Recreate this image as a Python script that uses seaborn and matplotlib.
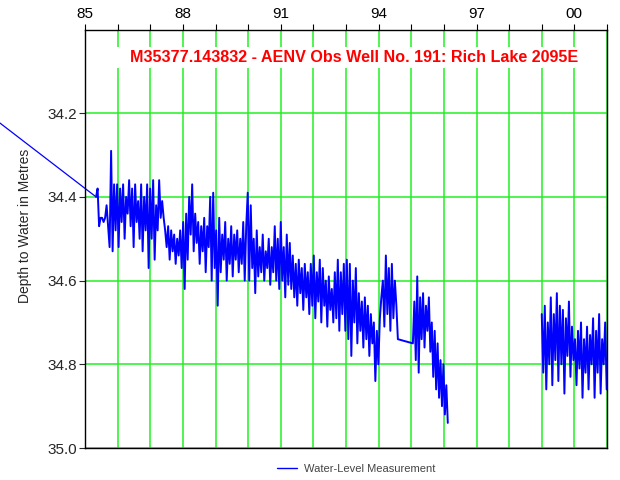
import numpy as np
import pandas as pd
import matplotlib
matplotlib.use("Agg")
import matplotlib.pyplot as plt
from matplotlib.lines import Line2D
from matplotlib.patches import Rectangle
import seaborn as sns

# Earlier reading that leads into the record (before the plotted window)
early_years = [1982.0]
early_depth = [34.20]

# Main record, Apr 1985 - Jul 1994 (regular readings)
main_start, main_end = 1985.34, 1994.59
main_depth = [
    34.40, 34.38, 34.47, 34.45, 34.45, 34.46, 34.45, 34.42, 34.47, 34.52,
    34.29, 34.53, 34.37, 34.48, 34.37, 34.52, 34.38, 34.46, 34.37, 34.50,
    34.40, 34.44, 34.36, 34.47, 34.38, 34.52, 34.37, 34.46, 34.41, 34.50,
    34.37, 34.53, 34.40, 34.48, 34.37, 34.57, 34.38, 34.50, 34.36, 34.55,
    34.42, 34.48, 34.36, 34.45, 34.41, 34.45, 34.48, 34.52, 34.47, 34.55,
    34.48, 34.53, 34.49, 34.56, 34.50, 34.54, 34.48, 34.57, 34.46, 34.62,
    34.44, 34.55, 34.40, 34.49, 34.37, 34.53, 34.44, 34.51, 34.46, 34.56,
    34.47, 34.53, 34.45, 34.58, 34.47, 34.52, 34.40, 34.60, 34.39, 34.57,
    34.48, 34.66, 34.45, 34.58, 34.49, 34.55, 34.46, 34.60, 34.50, 34.56,
    34.47, 34.59, 34.49, 34.55, 34.48, 34.58, 34.50, 34.56, 34.46, 34.60,
    34.47, 34.39, 34.60, 34.42, 34.57, 34.50, 34.63, 34.48, 34.59, 34.52,
    34.58, 34.49, 34.60, 34.53, 34.57, 34.50, 34.61, 34.52, 34.58, 34.47,
    34.60, 34.50, 34.62, 34.46, 34.60, 34.52, 34.64, 34.49, 34.61, 34.51,
    34.62, 34.54, 34.64, 34.56, 34.66, 34.55, 34.63, 34.57, 34.67, 34.56,
    34.64, 34.58, 34.68, 34.56, 34.66, 34.54, 34.69, 34.58, 34.65, 34.55,
    34.70, 34.57, 34.66, 34.60, 34.71, 34.59, 34.67, 34.62, 34.70, 34.58,
    34.69, 34.55, 34.72, 34.58, 34.68, 34.56, 34.72, 34.55, 34.74, 34.56,
    34.78, 34.60, 34.70, 34.57, 34.75, 34.63, 34.72, 34.65, 34.76, 34.64,
    34.74, 34.66, 34.78, 34.68, 34.75, 34.70, 34.84, 34.72, 34.80, 34.69,
    34.64, 34.60, 34.71, 34.54, 34.68, 34.57, 34.72, 34.56, 34.69, 34.60,
    34.66, 34.74,
]

# Resumed readings, early 1995 - early 1996
mid_start, mid_end = 1995.05, 1996.12
mid_depth = [
    34.75, 34.65, 34.79, 34.59, 34.82, 34.64, 34.74, 34.63, 34.76, 34.66,
    34.72, 34.64, 34.77, 34.70, 34.83, 34.72, 34.86, 34.75, 34.88, 34.79,
    34.90, 34.80, 34.92, 34.85, 34.94,
]

# Logger record, 1999 - 2000
late_start, late_end = 1999.0, 2000.99
late_depth = [
    34.68, 34.82, 34.66, 34.86, 34.70, 34.80, 34.64, 34.85, 34.68, 34.79,
    34.63, 34.84, 34.66, 34.80, 34.67, 34.87, 34.69, 34.78, 34.65, 34.83,
    34.71, 34.79, 34.74, 34.85, 34.72, 34.81, 34.70, 34.88, 34.74, 34.82,
    34.71, 34.86, 34.73, 34.80, 34.69, 34.88, 34.72, 34.82, 34.68, 34.87,
    34.74, 34.80, 34.70, 34.86,
]

year_ticks = list(range(1985, 2002))
labelled_years = {1985: "85", 1988: "88", 1991: "91", 1994: "94",
                  1997: "97", 2000: "00"}
depth_ticks = [34.2, 34.4, 34.6, 34.8, 35.0]

title = "M35377.143832 - AENV Obs Well No. 191: Rich Lake 2095E"
ylabel = "Depth to Water in Metres"
legend_label = "Water-Level Measurement"

# Assemble the series; the 1996-1999 gap is a separate run so it isn't joined
main_x = list(np.linspace(main_start, main_end, len(main_depth)))
run0_x = main_x + list(np.linspace(mid_start, mid_end, len(mid_depth)))
run0_y = main_depth + mid_depth
run1_x = list(np.linspace(late_start, late_end, len(late_depth)))
run1_y = late_depth

df = pd.DataFrame({
    "year": run0_x + run1_x,
    "depth": run0_y + run1_y,
    "run": [0] * len(run0_x) + [1] * len(run1_x),
})
# lead-in from the earlier reading to the first plotted one
lead = pd.DataFrame({"year": early_years + main_x[:1],
                     "depth": early_depth + main_depth[:1]})

sns.set_style("ticks")
plt.rcParams["font.family"] = ["Liberation Sans", "DejaVu Sans"]

fig = plt.figure(figsize=(6.2, 4.8), dpi=100)
ax = fig.add_axes([85 / 620, 1 - 448 / 480, 522 / 620, 418.5 / 480])

grid_green = "#22f022"

sns.lineplot(data=df, x="year", y="depth", units="run", estimator=None,
             sort=False, color="#0000ff", linewidth=1.4, legend=False,
             ax=ax, zorder=3)
sns.lineplot(data=lead, x="year", y="depth", estimator=None, sort=False,
             color="#0000ff", linewidth=0.9, legend=False, ax=ax, zorder=3)
for ln in ax.lines:
    ln.set_clip_on(False)

ax.set_xlim(1985, 2001)
ax.set_ylim(35.0, 34.0)

ax.set_xticks(year_ticks)
ax.set_xticklabels([labelled_years.get(y, "") for y in year_ticks])
ax.xaxis.tick_top()
ax.tick_params(axis="x", which="major", top=True, bottom=False, length=4,
               width=0.8, pad=2, labelsize=11, colors="black")

ax.set_yticks(depth_ticks)
ax.set_yticklabels([f"{v:.1f}" for v in depth_ticks])
ax.tick_params(axis="y", length=4, width=0.8, pad=2, labelsize=11)

ax.set_xlabel("")
ax.set_ylabel("")

ax.grid(True, color=grid_green, linewidth=1.1)
ax.set_axisbelow(True)
for sp in ax.spines.values():
    sp.set_visible(True)
    sp.set_color("black")
    sp.set_linewidth(1.0)
    sp.set_zorder(4)

# White backing behind the title so the grid stops around it
ax.add_patch(Rectangle((0.052, 0.908), 0.915, 0.050, transform=ax.transAxes,
                       facecolor="white", edgecolor="none", zorder=1.5))
ax.text(0.516, 0.934, title, transform=ax.transAxes, ha="center",
        va="center", color="#ff0000", fontsize=11.6, fontweight="bold",
        zorder=5)

fig.text(25 / 620, 1 - 226 / 480, ylabel, rotation=90, ha="center",
         va="center", fontsize=10)

handle = Line2D([], [], color="#0000ff", linewidth=1.0)
fig.legend([handle], [legend_label], loc="center",
           bbox_to_anchor=(356 / 620, 1 - 468.5 / 480), frameon=False,
           fontsize=8, handlelength=1.8, handletextpad=0.6,
           labelcolor="#444444")

fig.savefig("out.png", dpi=100, facecolor="white")
